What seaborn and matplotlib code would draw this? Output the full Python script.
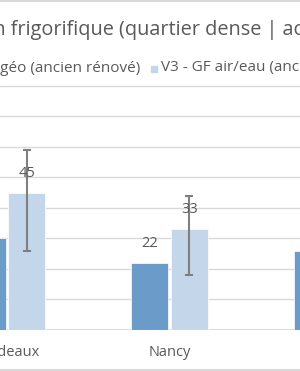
import pandas as pd
import seaborn as sns
import matplotlib.pyplot as plt
from matplotlib.lines import Line2D
from matplotlib.patches import Rectangle

# Données
villes = ["Bordeaux", "Nancy", "Marseille"]
scenarios = ["V2 - PAC géo (ancien rénové)", "V3 - GF air/eau (ancien rénové)"]
v2_valeurs = [30, 22, 26]
v3_valeurs = [45, 33]
v3_bas = [26, 18]
v3_haut = [59, 44]
titre = "Production frigorifique (quartier dense | actuel)"

df = pd.DataFrame({
    "ville": villes + villes[:2],
    "scenario": [scenarios[0]] * 3 + [scenarios[1]] * 2,
    "valeur": v2_valeurs + v3_valeurs,
})

sns.set_theme(style="white")
plt.rcParams["font.family"] = ["Open Sans", "DejaVu Sans"]

TXT = "#595959"
GRID = "#D9D9D9"
couleurs = ["#6A9BC9", "#C3D6EA"]
FS = 10.5
FS_LEG = 11

W, H = 300, 371
fig = plt.figure(figsize=(W / 100, H / 100), dpi=100)
ax = fig.add_axes([0, 41 / H, 1, 247.5 / H])

sns.barplot(
    data=df, x="ville", y="valeur", hue="scenario",
    order=villes, hue_order=scenarios, palette=couleurs, saturation=1,
    width=0.49, gap=0.075, errorbar=None, legend=False,
    edgecolor="white", linewidth=0.5, ax=ax, zorder=2,
)

ax.set_xlim(-7 / 162.5, 293 / 162.5)
ax.set_ylim(0, 81)
ax.set_yticks(range(0, 81, 10))
ax.yaxis.grid(True, color=GRID, lw=1)
ax.set_axisbelow(True)
for s in ax.spines.values():
    s.set_visible(False)
ax.axhline(0, color=GRID, lw=1.3, zorder=1)
ax.tick_params(axis="x", length=0, pad=11, labelsize=FS, labelcolor=TXT)
ax.tick_params(axis="y", left=False, labelleft=False)
ax.set_xlabel("")
ax.set_ylabel("")

# Barres d'erreur (V3)
for bar, val, lo, hi in zip(ax.containers[1], v3_valeurs, v3_bas, v3_haut):
    xc = bar.get_x() + bar.get_width() / 2
    ax.errorbar(xc, val, yerr=[[val - lo], [hi - val]], color="#7F7F7F",
                lw=1.5, capsize=3, capthick=1.5, zorder=3)

# Étiquettes de valeurs
for cont, vals in zip(ax.containers, [v2_valeurs, v3_valeurs]):
    for bar, val in zip(cont, vals):
        ax.annotate(f"{val}", (bar.get_x() + bar.get_width() / 2, bar.get_height()),
                    xytext=(0, 14), textcoords="offset points",
                    ha="center", va="center", fontsize=FS, color=TXT, zorder=4)

# Titre (coupé à gauche)
renderer = fig.canvas.get_renderer()
tmp = fig.text(0, 0, "Production", fontsize=14.3)
w_pre = tmp.get_window_extent(renderer).width
tmp.remove()
fig.text((6 - w_pre) / W, (H - 30) / H, titre, fontsize=14.3,
         color=TXT, ha="left", va="center")

# Légende
y_leg = (H - 68) / H
fig.text(140 / W, y_leg, scenarios[0], fontsize=FS_LEG, color=TXT, ha="right", va="center")
fig.add_artist(Rectangle((151 / W, (H - 72) / H), 6 / W, 6 / H,
                         transform=fig.transFigure, color=couleurs[1]))
fig.text(161 / W, y_leg, scenarios[1], fontsize=FS_LEG, color=TXT, ha="left", va="center")

# Bordure du graphique
for yb in [1, H - 1.5]:
    fig.add_artist(Line2D([0, 1], [(H - yb) / H] * 2, color=GRID, lw=1.5,
                          transform=fig.transFigure))

fig.savefig("out.png", dpi=100)
